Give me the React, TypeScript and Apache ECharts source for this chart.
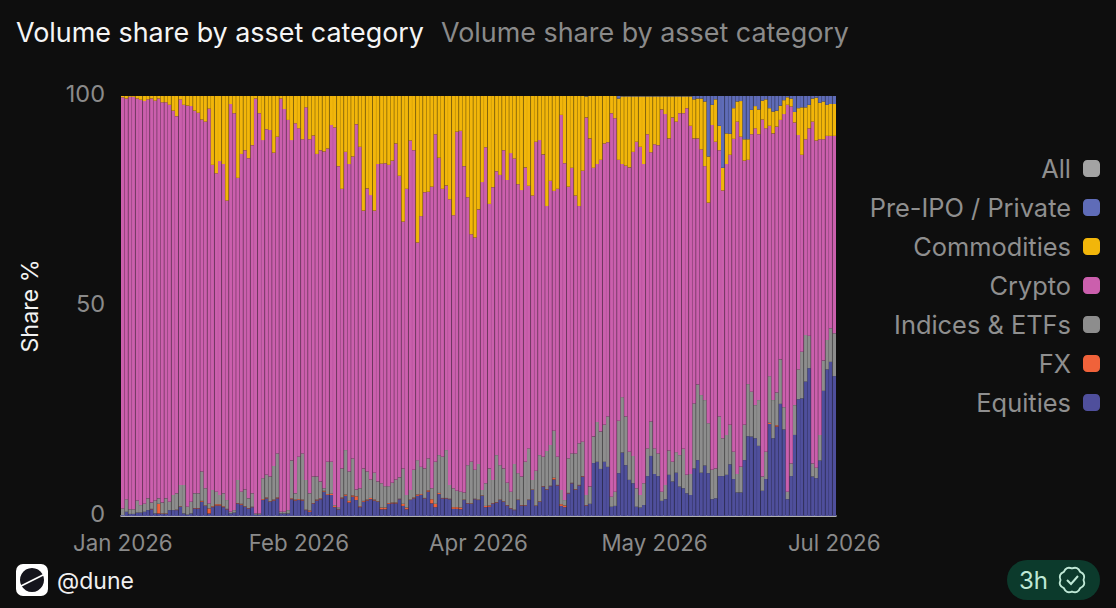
import React, { useEffect, useRef } from "react";
import * as echarts from "echarts";

const tickLabelIndices = [0, 49, 99, 148, 198];
const legendOrder = ["All", "Pre-IPO / Private", "Commodities", "Crypto", "Indices & ETFs", "FX", "Equities"];

// Levels, cumulative from the baseline, one per day.
const equitiesLevel = [
  0.2,1.0,0.5,0.5,0.8,0.8,1.0,1.4,1.6,0.6,
  0.6,0.5,0.5,1.4,1.4,1.4,2.2,0.6,0.3,0.6,
  1.8,1.8,3.4,2.4,0.6,2.1,2.5,2.5,2.1,1.6,
  0.6,0.8,3.0,2.7,2.2,1.8,2.1,0.3,0.3,3.8,
  4.2,3.4,3.7,4.2,0.6,0.6,0.6,4.0,3.7,3.8,
  3.7,1.4,1.0,3.0,3.7,4.0,5.8,5.0,5.0,2.1,
  1.6,4.2,4.8,3.2,4.6,3.8,2.1,3.4,3.7,4.0,
  3.7,3.4,1.6,1.6,2.9,3.0,3.0,4.0,2.4,1.6,
  3.8,4.2,4.8,5.0,4.2,5.8,3.0,2.1,5.2,4.2,
  4.2,4.0,1.7,1.7,1.6,3.8,3.0,2.9,4.0,3.8,
  4.8,2.1,2.2,3.0,3.2,3.8,3.4,2.5,1.8,1.4,
  3.8,2.5,2.5,3.8,6.2,2.4,3.4,7.0,6.3,7.1,
  8.7,7.3,2.4,2.1,5.4,7.8,6.3,7.3,9.4,2.5,
  2.9,12.6,12.9,11.2,12.9,11.7,2.2,2.4,10.2,15.1,
  12.1,8.6,7.8,2.2,2.0,2.6,9.5,14.3,10.0,9.5,
  3.6,4.0,9.8,8.2,10.3,7.0,6.6,5.4,5.0,11.3,
  13.3,10.3,12.0,10.2,4.0,4.2,9.5,9.5,9.8,12.3,
  8.8,5.6,5.6,13.3,19.0,18.9,18.5,16.7,6.0,8.8,
  21.9,18.5,21.3,26.7,20.6,4.0,9.5,19.3,27.8,28.0,
  32.0,35.2,9.4,9.0,13.2,29.8,34.9,36.7,33.3,
];

const fxShare = [
  0,0,0,0,0,0,0,0,0.1,0,
  2.3,0.1,0.1,0,0,0.1,0.1,0,0,0,
  0.1,0.1,0.2,0.1,1.2,0.2,0.3,0.3,0.2,0.1,
  0,0,0.1,0.2,0.1,0.1,0.1,0,0,0.2,
  0.2,0.1,0.2,0.2,0,0,0,0.2,0.2,0.2,
  0.2,0.1,0.3,0.1,0.2,0.2,0.2,0.2,0.3,0.3,
  0.1,0.2,0.3,0.4,0.3,0.9,0.2,0.2,0.2,0.3,
  0.2,0.1,0.4,0.4,0.2,0.2,0.2,0.1,0.5,0.4,
  0.1,0.2,0.3,0.2,0.1,0.3,1.0,0.8,0.3,0.1,
  0.1,0.1,0.4,0.4,0.4,0.1,0.1,0.1,0.1,0.1,
  0.1,0.3,0.3,0.1,0.1,0.1,0.1,0.1,0.1,0.1,
  0.1,0.1,0.1,0.1,0.1,0.1,0.1,0.1,0.1,0.1,
  0.4,0.1,0.4,0.4,0.1,0.1,0.1,0.1,0.1,0.1,
  0,0,0,0,0,0,0,0,0,0,
  0,0,0,0,0,0,0,0,0,0,
  0,0,0,0,0,0,0,0,0,0,
  0,0,0,0,0,0,0,0,0,0,
  0,0,0,0,0,0,0,0,0,0,
  0.3,0,0.3,0,0,0,0,0,0,0,
  0,0,0,0,0,0,0,0,0,
];

const indicesLevel = [
  1.8,4.0,1.6,1.6,3.7,2.6,2.9,4.2,3.2,3.7,
  4.2,3.2,4.2,3.4,5.0,5.4,7.4,7.4,2.2,3.4,
  5.4,5.4,10.6,6.6,3.0,6.2,5.8,5.0,5.4,3.8,
  1.0,1.4,8.6,5.8,6.3,4.2,5.4,0.6,0.6,9.0,
  9.8,9.4,11.9,14.9,1.0,1.0,1.4,13.2,5.4,14.1,
  14.9,8.6,5.4,9.4,9.4,8.2,6.6,12.9,12.9,2.6,
  2.1,11.3,15.7,10.6,13.7,6.3,6.6,11.3,10.6,8.7,
  10.3,8.2,7.8,7.1,7.1,7.9,8.7,9.2,11.3,5.0,
  6.2,11.0,13.3,11.7,11.3,13.7,6.6,12.9,14.5,14.1,
  15.7,7.4,6.6,6.0,5.8,5.6,12.1,12.9,11.0,12.4,
  6.2,7.8,11.3,8.6,14.5,12.1,11.3,7.9,5.8,12.4,
  10.2,9.4,12.9,16.1,8.6,10.8,14.5,14.1,15.5,16.9,
  20.3,14.1,6.2,3.8,13.7,14.9,14.9,17.3,17.7,5.0,
  7.0,18.9,22.4,20.1,21.7,23.7,4.6,5.8,22.7,28.3,
  23.7,15.3,14.3,6.6,5.0,7.8,16.1,22.5,16.1,14.9,
  5.8,7.4,15.6,12.9,15.2,14.5,16.0,9.8,10.0,26.8,
  31.3,28.8,27.6,22.1,11.0,11.3,23.7,18.5,19.3,21.7,
  15.3,10.0,11.7,21.7,31.4,29.6,26.4,27.6,9.4,15.3,
  33.3,27.6,29.4,37.3,25.9,5.8,12.5,26.4,34.9,39.1,
  43.1,42.9,12.5,11.5,19.3,37.0,41.9,44.7,43.5,
];

const cryptoLevel = [
  99.7,99.4,99.8,99.8,99.4,99.1,98.8,99.2,99.4,98.9,
  99.4,98.5,98.5,97.9,96.5,95.2,99.2,97.9,97.7,97.6,
  96.5,96.0,94.4,93.9,97.0,83.6,81.6,84.5,83.8,75.1,
  98.1,95.9,80.5,86.2,87.1,85.2,88.3,99.4,95.9,89.5,
  92.1,91.9,86.5,90.3,99.4,96.9,94.3,89.5,93.5,92.3,
  89.7,97.3,89.7,90.6,86.2,87.1,86.8,87.5,93.1,92.5,
  83.3,77.9,86.7,83.8,85.6,93.3,87.9,72.7,78.0,76.4,
  72.7,83.8,83.9,84.0,83.6,84.6,88.7,81.0,70.1,77.9,
  89.4,87.1,65.1,71.4,77.1,77.2,78.4,90.9,85.3,77.9,
  78.7,75.4,71.6,91.5,91.7,83.3,75.9,67.1,66.3,73.0,
  79.5,87.8,74.3,78.3,82.1,81.2,87.1,80.0,86.4,85.1,
  79.0,77.6,83.0,78.6,76.3,89.1,89.5,86.1,73.8,79.8,
  77.4,77.9,95.5,84.0,78.4,82.9,76.3,73.8,82.2,94.9,
  89.9,82.9,83.8,84.8,88.7,89.0,95.9,94.7,84.8,83.8,
  83.4,83.0,86.7,89.1,87.9,83.8,90.9,86.6,88.5,88.3,
  96.8,95.7,89.9,94.9,93.9,95.9,95.9,97.1,92.9,89.9,
  89.9,87.3,83.3,74.6,93.1,89.1,87.1,77.5,83.8,86.0,
  89.8,93.9,90.3,84.6,84.8,90.9,92.3,90.9,94.4,92.3,
  92.9,91.1,92.7,94.3,95.7,97.9,97.5,93.7,90.7,86.0,
  89.7,92.3,93.9,89.4,89.7,89.7,90.5,90.5,90.5,
];

const preIpoShare = [
  0,0,0,0,0,0,0,0,0,0, 0,0,0,0,0,0,0,0,0,0,
  0,0,0,0,0,0,0,0,0,0, 0,0,0,0,0,0,0,0,0,0,
  0,0,0,0,0,0,0,0,0,0, 0,0,0,0,0,0,0,0,0,0,
  0,0,0,0,0,0,0,0,0,0, 0,0,0,0,0,0,0,0,0,0,
  0,0,0,0,0,0,0,0,0,0, 0,0,0,0,0,0,0,0,0,0,
  0,0,0,0,0,0,0,0,0,0, 0,0,0,0,0,0,0,0,0,0,
  0,0,0,0,0,0,0,0,0,0.1,
  0,0,0,0,0,0,0,0,0.6,0.1,
  0.1,0.1,0.1,0.1,0.1,0.1,0.1,0.1,0.1,0.1,
  0.1,0.1,0.1,0.1,0.1,0.1,0.1,0.1,0.1,0.8,
  0.6,0.6,1.3,14.4,2.1,0.8,7.1,17.1,8.9,9.0,
  2.9,1.3,1.2,10.3,10.3,3.3,2.4,3.2,1.1,0.8,
  2.9,3.7,3.5,2.3,1.0,0.3,0.6,3.8,2.9,2.7,
  2.7,2.1,0.6,0.4,1.6,1.3,2.1,1.9,1.9,
];

const round1 = (v: number) => Math.round(v * 10) / 10;
const dayCount = equitiesLevel.length;
const equities = equitiesLevel;
const fx = fxShare;
const indices = indicesLevel.map((v, i) => round1(Math.max(0, v - equitiesLevel[i] - fxShare[i])));
const crypto = cryptoLevel.map((v, i) => round1(v - indicesLevel[i]));
const preIpo = preIpoShare;
const commodities = cryptoLevel.map((v, i) => round1(100 - preIpoShare[i] - v));
const all = equitiesLevel.map(() => 0);

const categories = Array.from({ length: dayCount }, (_, i) => new Date(Date.UTC(2026, 0, 1 + i)).toISOString().slice(0, 10));
const monthNames = ["Jan", "Feb", "Mar", "Apr", "May", "Jun", "Jul", "Aug", "Sep", "Oct", "Nov", "Dec"];
const seamIndices = categories.map((_, i) => i).filter((i) => i < dayCount - 1);

const COLORS: Record<string, string> = {
  "All": "#a3a3a3",
  "Pre-IPO / Private": "#5f6cb8",
  "Commodities": "#f2b60a",
  "Crypto": "#cb5fad",
  "Indices & ETFs": "#8d8d8d",
  "FX": "#f0623a",
  "Equities": "#4f4f9c",
};

const badgePoints = 8;
const badgeD = (() => {
  let d = "";
  for (let k = 0; k < badgePoints; k++) {
    const a0 = (k / badgePoints) * Math.PI * 2;
    const a1 = ((k + 0.5) / badgePoints) * Math.PI * 2;
    const a2 = ((k + 1) / badgePoints) * Math.PI * 2;
    const p = (r: number, a: number) => `${(12 + r * Math.cos(a)).toFixed(2)} ${(12 + r * Math.sin(a)).toFixed(2)}`;
    if (k === 0) d += `M${p(9.6, a0)}`;
    d += `Q${p(12.6, a1)} ${p(9.6, a2)}`;
  }
  return d + "Z";
})();
echarts.graphic.registerShape("badge", echarts.graphic.extendPath(badgeD as any, {}) as any);

const seriesOf = (name: string, data: number[]) => ({
  name,
  type: "bar",
  stack: "share",
  data,
  barCategoryGap: "0%",
  itemStyle: { color: COLORS[name] },
  emphasis: { disabled: true },
});

export default function App() {
  const ref = useRef<HTMLDivElement>(null);
  useEffect(() => {
    document.body.style.margin = "0";
    document.body.style.background = "#0e0e0e";
    const chart = echarts.init(ref.current!, undefined, { renderer: "svg" });
    chart.setOption({
      animation: false,
      backgroundColor: "#0e0e0e",
      textStyle: { fontFamily: "Inter" },
      title: [
        { text: "Volume share by asset category", left: 11, top: 13, textStyle: { color: "#f5f5f5", fontSize: 26.9, fontWeight: 400, fontFamily: "Inter" } },
        { text: "Volume share by asset category", left: 436, top: 13, textStyle: { color: "#8a8a8a", fontSize: 26.9, fontWeight: 400, fontFamily: "Inter" } },
      ],
      grid: { left: 121, top: 96, width: 715, height: 420, containLabel: false },
      legend: {
        orient: "vertical",
        right: 16,
        top: 156,
        padding: 0,
        align: "right",
        itemWidth: 17,
        itemHeight: 17,
        itemGap: 14,
        icon: "roundRect",
        data: legendOrder,
        selectedMode: false,
        formatter: (n: string) => n,
        textStyle: { color: "#8f8f8f", fontSize: 25.4, fontFamily: "Inter", padding: [0, 7, 0, 0] },
      },
      xAxis: {
        type: "category",
        data: categories,
        axisLine: { show: true, lineStyle: { color: "#e8e8e8", width: 1.5 } },
        axisTick: { show: false },
        splitLine: { show: false },
        axisLabel: {
          color: "#8a8a8a",
          fontSize: 22.3,
          margin: 15,
          fontFamily: "Inter",
          hideOverlap: false,
          interval: (i: number) => tickLabelIndices.includes(i),
          formatter: (v: string) => `${monthNames[Number(v.slice(5, 7)) - 1]} ${v.slice(0, 4)}`,
        },
      },
      yAxis: {
        type: "value",
        min: 0,
        max: 100,
        interval: 50,
        name: "Share %",
        nameLocation: "middle",
        nameGap: 80,
        nameRotate: 90,
        nameTextStyle: { color: "#f2f2f2", fontSize: 23.3, fontFamily: "Inter" },
        axisLine: { show: false },
        axisTick: { show: false },
        splitLine: { show: false },
        axisLabel: { color: "#8a8a8a", fontSize: 23.5, margin: 16, fontFamily: "Inter", verticalAlign: "bottom", lineHeight: 6 },
      },
      series: [
        seriesOf("Equities", equities),
        seriesOf("FX", fx),
        seriesOf("Indices & ETFs", indices),
        seriesOf("Crypto", crypto),
        seriesOf("Commodities", commodities),
        seriesOf("Pre-IPO / Private", preIpo),
        seriesOf("All", all),
        {
          name: "seams",
          type: "custom",
          silent: true,
          z: 5,
          data: seamIndices,
          encode: { x: 0 },
          renderItem: (_: any, api: any) => {
            const i = api.value(0);
            const top = api.coord([i, 100]);
            const bottom = api.coord([i, 0]);
            const band = api.size([1, 0])[0];
            const x = top[0] + band / 2 - 0.5;
            const alpha = i % 2 === 1 ? 0.3 : 0.05;
            return { type: "rect", shape: { x, y: top[1], width: 1, height: bottom[1] - top[1] }, style: { fill: `rgba(14,14,14,${alpha})` } };
          },
        },
      ],
      graphic: [
        { type: "rect", shape: { x: 16, y: 564, width: 32, height: 32, r: 7 }, style: { fill: "#ffffff" } },
        { type: "circle", shape: { cx: 32, cy: 580, r: 12 }, style: { fill: "#14141c" } },
        { type: "line", shape: { x1: 19, y1: 587, x2: 45, y2: 574 }, style: { stroke: "#ffffff", lineWidth: 1.6 } },
        { type: "text", x: 57, y: 581, style: { text: "@dune", fill: "#f0f0f0", fontSize: 23, fontFamily: "Inter", verticalAlign: "middle" } },
        { type: "rect", shape: { x: 1007, y: 560, width: 93, height: 40, r: 20 }, style: { fill: "#0c3a2c" } },
        { type: "text", x: 1019, y: 580, style: { text: "3h", fill: "#bfe8d6", fontSize: 24, fontFamily: "Inter", verticalAlign: "middle" } },
        { type: "badge", x: 1072 - 14.4, y: 580 - 14.4, scaleX: 1.2, scaleY: 1.2, style: { fill: "none", stroke: "#bfe8d6", lineWidth: 1.6 } },
        { type: "polyline", shape: { points: [[1067, 580], [1071, 584], [1078, 576]] }, style: { fill: "none", stroke: "#bfe8d6", lineWidth: 2 } },
      ],
    });
    return () => chart.dispose();
  }, []);
  return <div ref={ref} style={{ width: 1116, height: 608 }} />;
}
